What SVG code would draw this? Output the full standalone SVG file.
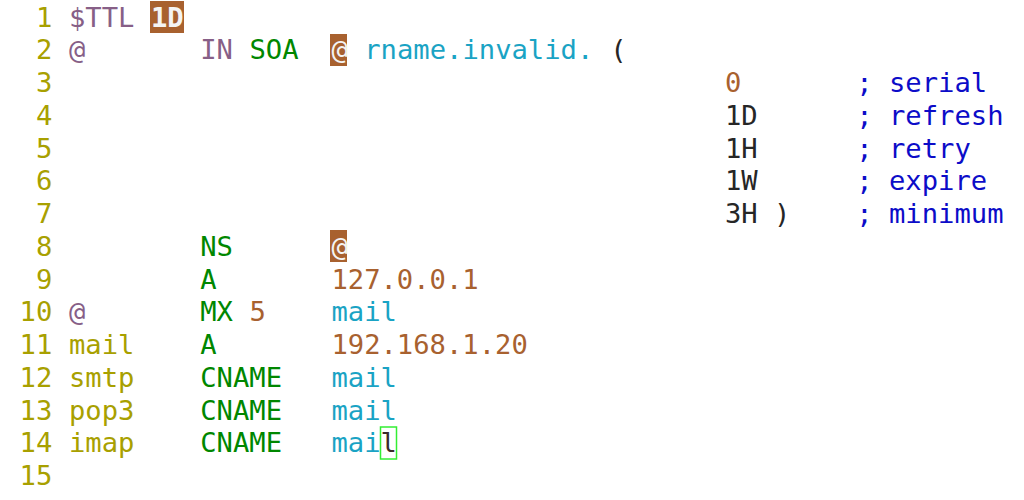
<svg xmlns="http://www.w3.org/2000/svg" width="1024" height="500" viewBox="0 0 1024 500">
<style>
text{font-family:"DejaVu Sans Mono","Liberation Mono",monospace;font-size:27.2px;white-space:pre}
.ln{fill:#a8a000}
.id{fill:#a8a000}
.kw{fill:#875f87}
.ty{fill:#008700}
.nm{fill:#a8612f}
.dn{fill:#1aa3c4}
.tx{fill:#262626}
.cm{fill:#0c0cc8}
.hl{fill:#a8612f}
.hlt{fill:#f4f4f4}
</style>
<rect width="1024" height="500" fill="#ffffff"/>
<g id="highlights">
<rect x="150" y="1" width="34" height="32" class="hl"/>
<rect x="330" y="34" width="17" height="32" class="hl"/>
<rect x="330" y="230" width="17" height="32" class="hl"/>
<rect x="380.5" y="427" width="16" height="32" fill="none" stroke="#33ee33" stroke-width="1.5"/>
</g>
<g id="line-numbers" class="ln">
<text x="36" y="26.5">1</text>
<text x="36" y="59.3">2</text>
<text x="36" y="92">3</text>
<text x="36" y="124.8">4</text>
<text x="36" y="157.5">5</text>
<text x="36" y="190.3">6</text>
<text x="36" y="223">7</text>
<text x="36" y="255.8">8</text>
<text x="36" y="288.5">9</text>
<text x="19.6" y="321.3">10</text>
<text x="19.6" y="354">11</text>
<text x="19.6" y="386.8">12</text>
<text x="19.6" y="419.5">13</text>
<text x="19.6" y="452.3">14</text>
<text x="19.6" y="485">15</text>
</g>
<g id="line1">
<text x="69" y="26.5" class="kw">$TTL</text>
<text x="151" y="26.5" class="hlt" font-weight="bold">1D</text>
</g>
<g id="line2">
<text x="69" y="59.3" class="kw">@</text>
<text x="200.2" y="59.3" class="kw">IN</text>
<text x="249.4" y="59.3" class="ty">SOA</text>
<text x="331.4" y="59.3" class="hlt">@</text>
<text x="364.2" y="59.3" class="dn">rname.invalid.</text>
<text x="610.2" y="59.3" class="tx">(</text>
</g>
<g id="soa-values">
<text x="725" y="92" class="nm">0</text>
<text x="725" y="124.8" class="tx">1D</text>
<text x="725" y="157.5" class="tx">1H</text>
<text x="725" y="190.3" class="tx">1W</text>
<text x="725" y="223" class="tx">3H )</text>
<text x="856.2" y="92" class="cm">; serial</text>
<text x="856.2" y="124.8" class="cm">; refresh</text>
<text x="856.2" y="157.5" class="cm">; retry</text>
<text x="856.2" y="190.3" class="cm">; expire</text>
<text x="856.2" y="223" class="cm">; minimum</text>
</g>
<g id="records">
<text x="200.2" y="255.8" class="ty">NS</text>
<text x="331.4" y="255.8" class="hlt">@</text>
<text x="200.2" y="288.5" class="ty">A</text>
<text x="331.4" y="288.5" class="nm">127.0.0.1</text>
<text x="69" y="321.3" class="kw">@</text>
<text x="200.2" y="321.3" class="ty">MX</text>
<text x="249.4" y="321.3" class="nm">5</text>
<text x="331.4" y="321.3" class="dn">mail</text>
<text x="69" y="354" class="id">mail</text>
<text x="200.2" y="354" class="ty">A</text>
<text x="331.4" y="354" class="nm">192.168.1.20</text>
<text x="69" y="386.8" class="id">smtp</text>
<text x="200.2" y="386.8" class="ty">CNAME</text>
<text x="331.4" y="386.8" class="dn">mail</text>
<text x="69" y="419.5" class="id">pop3</text>
<text x="200.2" y="419.5" class="ty">CNAME</text>
<text x="331.4" y="419.5" class="dn">mail</text>
<text x="69" y="452.3" class="id">imap</text>
<text x="200.2" y="452.3" class="ty">CNAME</text>
<text x="331.4" y="452.3" class="dn">mai</text>
<text x="380.6" y="452.3" fill="#3a2a2a">l</text>
</g>
</svg>
